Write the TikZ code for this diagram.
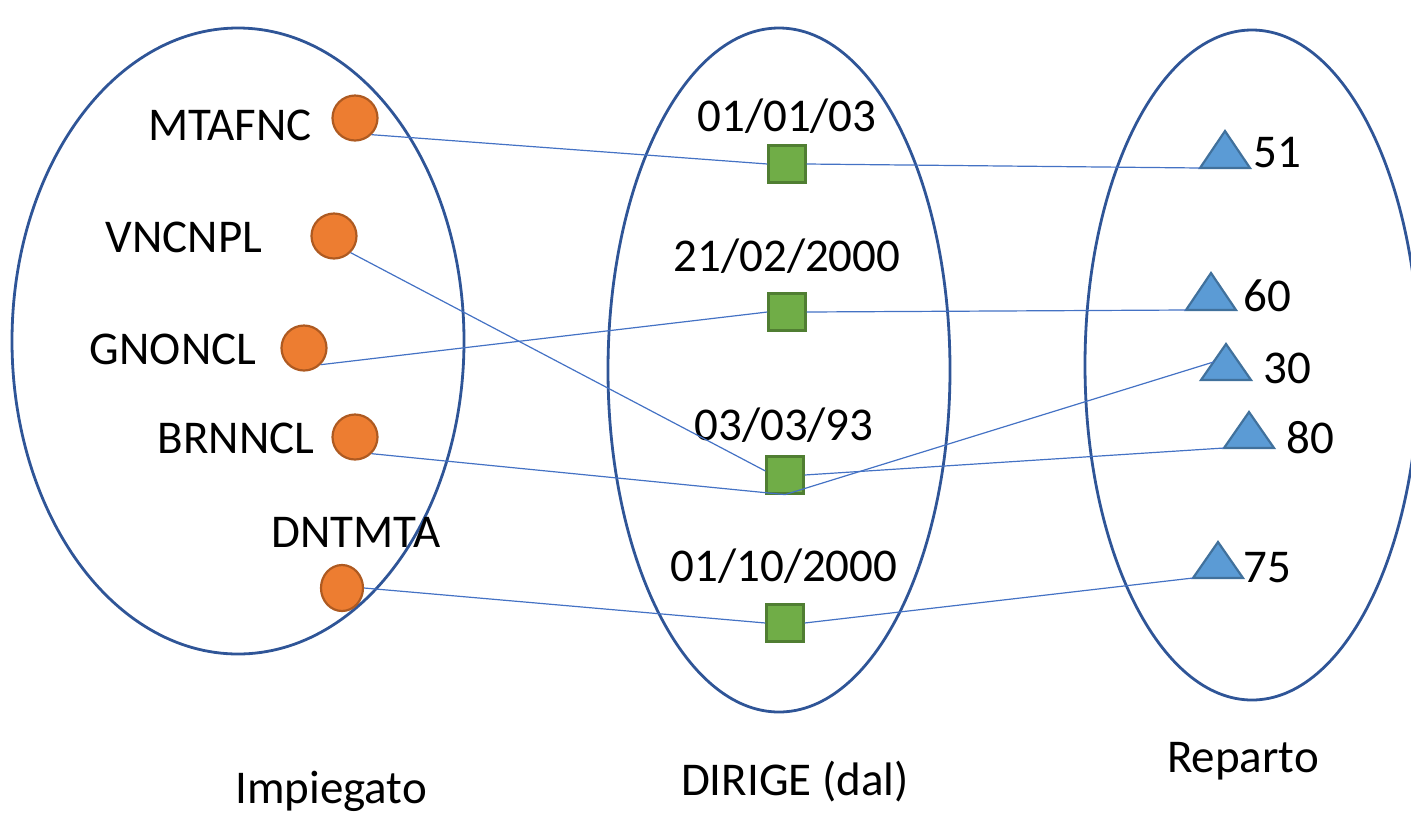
\documentclass[tikz,border=0pt]{standalone}
\usepackage{fontspec}
\setmainfont{Carlito}
\usetikzlibrary{shapes.geometric,calc}
\begin{document}
\begin{tikzpicture}[x=1pt,y=-1pt,
  setbox/.style={draw=setblue,line width=2.8pt},
  lbl/.style={anchor=base,inner sep=0pt,font=\fontsize{47}{56}\selectfont},
  emp/.style={circle,draw=orangeline,fill=orangefill,line width=2.2pt,minimum size=45pt,inner sep=0pt},
  rel/.style={rectangle,draw=greenline,fill=greenfill,line width=2.2pt,minimum size=37pt,inner sep=0pt},
  tri/.style={draw=triline,fill=trifill,line width=2.2pt,line join=miter},
  conn/.style={draw=connblue,line width=1.2pt}]
\definecolor{setblue}{HTML}{2F5597}
\definecolor{orangefill}{HTML}{ED7D31}
\definecolor{orangeline}{HTML}{AE5A21}
\definecolor{greenfill}{HTML}{70AD47}
\definecolor{greenline}{HTML}{507E32}
\definecolor{trifill}{HTML}{5B9BD5}
\definecolor{triline}{HTML}{41719C}
\definecolor{connblue}{HTML}{4472C4}
\useasboundingbox (0,0) rectangle (1411,815);
\begin{scope}
\clip (0,0) rectangle (1411,815);
% sets
\draw[setbox] (238,341) ellipse [x radius=226pt, y radius=313pt];
\draw[setbox] (779,370) ellipse [x radius=171pt, y radius=342pt];
\draw[setbox] (1252,365) ellipse [x radius=167pt, y radius=335pt];
\end{scope}
% set labels
\node[lbl] (limp) at (331,803) {Impiegato};
\node[lbl] (ldir) at (795,795) {DIRIGE (dal)};
\node[lbl] (lrep) at (1243,772) {Reparto};
% employees
\node[emp] (e1) at (355,118) {};
\node[emp] (e2) at (334,236) {};
\node[emp] (e3) at (304,348) {};
\node[emp] (e4) at (355,437) {};
\node[emp,ellipse,minimum width=42pt,minimum height=46pt] (e5) at (342,588) {};
\node[lbl] (n1) at (230,140) {MTAFNC};
\node[lbl] (n2) at (184,252) {VNCNPL};
\node[lbl] (n3) at (173,364) {GNONCL};
\node[lbl] (n4) at (236,453) {BRNNCL};
\node[lbl] (n5) at (356,547) {DNTMTA};
% relationship instances
\node[rel] (s1) at (787,164) {};
\node[rel] (s2) at (787,312) {};
\node[rel] (s3) at (785,475) {};
\node[rel] (s4) at (785,623) {};
\node[lbl] (d1) at (787,131) {01/01/03};
\node[lbl] (d2) at (787,271) {21/02/2000};
\node[lbl] (d3) at (784,440) {03/03/93};
\node[lbl] (d4) at (784,581) {01/10/2000};
% departments (triangles)
\coordinate (t1l) at (1200,168); \coordinate (t1r) at (1250,168); \coordinate (t1a) at (1225,131);
\coordinate (t2l) at (1186,310); \coordinate (t2r) at (1236,310); \coordinate (t2a) at (1211,273);
\coordinate (t3l) at (1201,380); \coordinate (t3r) at (1251,380); \coordinate (t3a) at (1226,344);
\coordinate (t4l) at (1224,448); \coordinate (t4r) at (1274,448); \coordinate (t4a) at (1249,412);
\coordinate (t5l) at (1193,578); \coordinate (t5r) at (1243,578); \coordinate (t5a) at (1218,542);
\coordinate (t3m) at ($(t3l)!0.5!(t3a)$);
\foreach \t in {1,...,5}{\path[tri] (t\t l) -- (t\t a) -- (t\t r) -- cycle;}
\node[lbl] (r1) at (1277,167) {51};
\node[lbl] (r2) at (1267,311) {60};
\node[lbl] (r3) at (1287,383) {30};
\node[lbl] (r4) at (1310,453) {80};
\node[lbl] (r5) at (1267,582) {75};
% connectors
\path[conn] (e1.-45) -- (s1.west);
\path[conn] (s1.east) -- (t1l);
\path[conn] (e2.-45) -- ([yshift=4pt]s3.west);
\path[conn] (e3.-45) -- (s2.west);
\path[conn] (s2.east) -- (t2l);
\path[conn] (e4.-45) -- (s3.south);
\path[conn] (s3.south) -- (t3m);
\path[conn] (s3.east) -- (t4l);
\path[conn] (e5.east) -- (s4.west);
\path[conn] (s4.east) -- (t5l);
\end{tikzpicture}
\end{document}
